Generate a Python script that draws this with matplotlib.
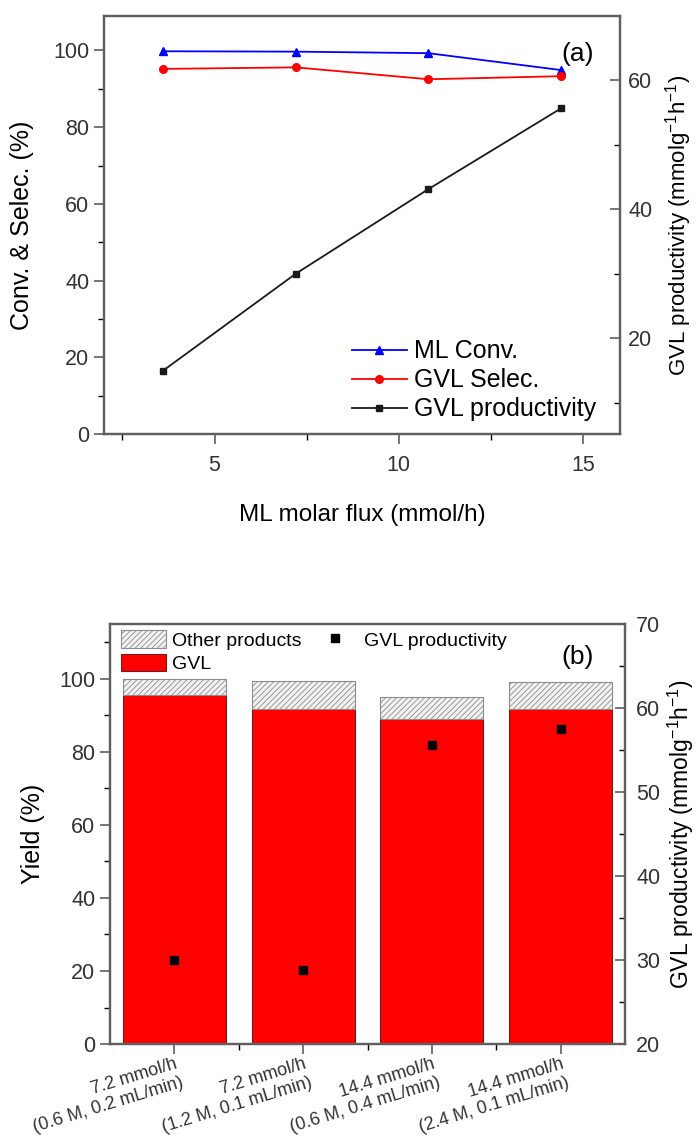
import numpy as np
import matplotlib.pyplot as plt
from matplotlib.patches import Patch
from matplotlib.lines import Line2D
from matplotlib.ticker import MultipleLocator

plt.rcParams['font.family'] = ['Liberation Sans', 'DejaVu Sans']
plt.rcParams['hatch.linewidth'] = 0.6

# (a) conversion / selectivity / productivity vs ML molar flux
flux = [3.6, 7.2, 10.8, 14.4]
ml_conv = [99.8, 99.7, 99.3, 94.9]
gvl_selec = [95.2, 95.6, 92.5, 93.3]
gvl_prod_a = [15.0, 30.0, 43.1, 55.6]

# (b) yields and productivity for four feed conditions
conditions = ['7.2 mmol/h\n(0.6 M, 0.2 mL/min)',
              '7.2 mmol/h\n(1.2 M, 0.1 mL/min)',
              '14.4 mmol/h\n(0.6 M, 0.4 mL/min)',
              '14.4 mmol/h\n(2.4 M, 0.1 mL/min)']
gvl_yield = [95.6, 91.7, 89.0, 91.8]
other_yield = [4.4, 7.6, 6.1, 7.4]
gvl_prod_b = [30.0, 28.8, 55.6, 57.5]

spine_col = '#5f5f5f'
fs = 15.5
prod_label = 'GVL productivity (mmolg$^{\\mathregular{-1}}$h$^{\\mathregular{-1}}$)'

fig = plt.figure(figsize=(6.99, 11.41), dpi=100)


def style_axes(ax):
    for s in ax.spines.values():
        s.set_color(spine_col)
        s.set_linewidth(1.6)
    ax.tick_params(colors='#333333', labelsize=fs, width=1.2, color=spine_col)
    ax.tick_params(which='major', length=7)
    ax.tick_params(which='minor', length=4, width=1.0)


# ---- panel (a)
ax1 = fig.add_axes([0.1488, 0.6196, 0.7382, 0.3664])
ax1b = ax1.twinx()
style_axes(ax1)
style_axes(ax1b)

ax1.plot(flux, ml_conv, color='blue', marker='^', ms=6, lw=1.3)
ax1.plot(flux, gvl_selec, color='red', marker='o', ms=5.5, lw=1.3)
ax1b.plot(flux, gvl_prod_a, color='#1a1a1a', marker='s', ms=5, lw=1.3)

ax1.set_xlim(2, 16)
ax1.set_ylim(0, 109)
ax1b.set_ylim(5.2, 69.9)
ax1.xaxis.set_major_locator(MultipleLocator(5))
ax1.xaxis.set_minor_locator(MultipleLocator(2.5))
ax1.yaxis.set_major_locator(MultipleLocator(20))
ax1.yaxis.set_minor_locator(MultipleLocator(10))
ax1b.yaxis.set_major_locator(MultipleLocator(20))
ax1b.yaxis.set_minor_locator(MultipleLocator(10))
ax1.tick_params(which='both', direction='out', right=False, top=False)
ax1.tick_params(axis='x', pad=8)
ax1b.tick_params(which='both', direction='in', left=False, top=False)
ax1b.tick_params(axis='y', pad=6)

ax1.set_xlabel('ML molar flux (mmol/h)', fontsize=17.5, labelpad=20)
ax1.set_ylabel('Conv. & Selec. (%)', fontsize=18, labelpad=14)
ax1b.set_ylabel(prod_label, fontsize=16, labelpad=8)
ax1.text(0.918, 0.91, '(a)', transform=ax1.transAxes, fontsize=19,
         ha='center', va='center')

handles_a = [
    Line2D([], [], color='blue', marker='^', ms=6, lw=1.3),
    Line2D([], [], color='red', marker='o', ms=5.5, lw=1.3),
    Line2D([], [], color='#1a1a1a', marker='s', ms=5, lw=1.3),
]
ax1.legend(handles_a, ['ML Conv.', 'GVL Selec.', 'GVL productivity'],
           loc='lower left', bbox_to_anchor=(0.48, 0.03), frameon=False,
           fontsize=18, handlelength=2.2, handletextpad=0.3,
           labelspacing=0.2, borderpad=0, borderaxespad=0)

# ---- panel (b)
ax2 = fig.add_axes([0.1574, 0.085, 0.7368, 0.368])
ax2b = ax2.twinx()
style_axes(ax2)
style_axes(ax2b)

pos = np.arange(1, len(conditions) + 1)
ax2.bar(pos, gvl_yield, width=0.8, color='red', edgecolor='#6a2020', lw=0.8)
ax2.bar(pos, other_yield, bottom=gvl_yield, width=0.8, color='#f2f2f2',
        edgecolor='#8c8c8c', hatch='//////', lw=0.8)
ax2b.plot(pos, gvl_prod_b, ls='none', marker='s', ms=6, color='black')

ax2.set_xlim(0.5, 4.5)
ax2.set_ylim(0, 115)
ax2b.set_ylim(20, 70)
ax2.yaxis.set_major_locator(MultipleLocator(20))
ax2.yaxis.set_minor_locator(MultipleLocator(10))
ax2b.yaxis.set_major_locator(MultipleLocator(10))
ax2b.yaxis.set_minor_locator(MultipleLocator(5))
ax2.set_xticks(pos)
ax2.set_xticks(pos[:-1] + 0.5, minor=True)
ax2.set_xticklabels(conditions, rotation=17, ha='right', va='top',
                    rotation_mode='anchor', fontsize=13, multialignment='right')
ax2.tick_params(which='both', direction='out', right=False, top=False)
ax2.tick_params(axis='x', pad=1)
ax2b.tick_params(which='both', direction='in', left=False, top=False)
ax2b.tick_params(axis='y', pad=8)

ax2.set_ylabel('Yield (%)', fontsize=18, labelpad=10)
ax2b.set_ylabel(prod_label, fontsize=16.5, labelpad=4)
ax2.text(0.907, 0.921, '(b)', transform=ax2.transAxes, fontsize=19,
         ha='center', va='center')

handles_b = [
    Patch(facecolor='#f2f2f2', edgecolor='#8c8c8c', hatch='//////', lw=0.8),
    Patch(facecolor='red', edgecolor='#6a2020', lw=0.8),
    Line2D([], [], ls='none', marker='s', ms=6, color='black'),
]
ax2.legend(handles_b, ['Other products', 'GVL', 'GVL productivity'],
           ncol=2, loc='upper left', bbox_to_anchor=(0.022, 0.985),
           frameon=False, fontsize=14, handlelength=2.3, handleheight=1.0,
           handletextpad=0.3, columnspacing=0.6, labelspacing=0.2,
           borderpad=0, borderaxespad=0)

fig.savefig('out.png', dpi=100)
